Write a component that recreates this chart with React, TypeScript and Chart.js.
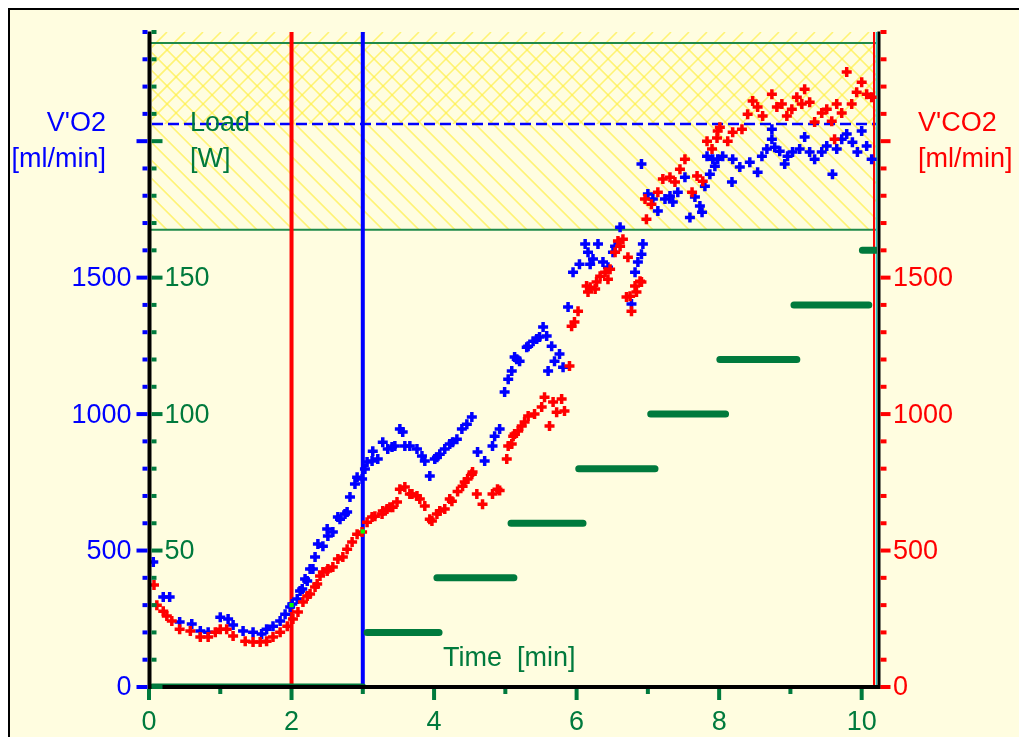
import React, { useEffect, useRef } from "react";
import { Chart, registerables } from "chart.js";

Chart.register(...registerables);

// ---------- data ----------
const vo2Time = [
  0.06, 0.2, 0.29, 0.43, 0.6, 0.72, 0.83, 1.0, 1.11, 1.18, 1.32, 1.46, 1.58, 1.65, 1.74, 1.84, 1.91, 1.98,
  2.01, 2.08, 2.12, 2.15, 2.19, 2.22, 2.26, 2.3, 2.33, 2.37, 2.44, 2.5, 2.51, 2.58, 2.65, 2.68, 2.75, 2.78,
  2.82, 2.89, 2.92, 2.99, 3.03, 3.06, 3.13, 3.14, 3.21, 3.28, 3.35, 3.41, 3.45, 3.52, 3.56, 3.59, 3.66, 3.76,
  3.83, 3.87, 3.94, 4.01, 4.04, 4.08, 4.15, 4.22, 4.26, 4.32, 4.39, 4.46, 4.53, 4.61, 4.71, 4.82, 4.85, 4.92,
  4.99, 5.04, 5.09, 5.13, 5.16, 5.2, 5.3, 5.32, 5.39, 5.44, 5.48, 5.53, 5.58, 5.6, 5.65, 5.69, 5.76, 5.81,
  5.88, 5.95, 6.04, 6.12, 6.16, 6.19, 6.23, 6.3, 6.37, 6.44, 6.51, 6.54, 6.61, 6.77, 6.82, 6.86, 6.91, 6.93,
  6.91, 7.0, 7.07, 7.14, 7.24, 7.31, 7.35, 7.42, 7.52, 7.59, 7.66, 7.73, 7.76, 7.8, 7.83, 7.87, 7.91, 7.94,
  7.98, 8.05, 8.18, 8.19, 8.29, 8.43, 8.54, 8.6, 8.67, 8.74, 8.74, 8.78, 8.85, 8.92, 8.96, 9.03, 9.13, 9.2,
  9.27, 9.34, 9.44, 9.51, 9.59, 9.65, 9.72, 9.79, 9.87, 9.94, 10.0, 10.07, 10.14,
];
const vo2Values = [
  458, 330, 330, 238, 231, 205, 201, 256, 249, 227, 205, 201, 194, 212, 223, 242, 267, 293,
  304, 322, 352, 359, 396, 388, 432, 432, 476, 524, 516, 579, 553, 568, 623, 615, 634, 641,
  696, 744, 769, 762, 799, 824, 828, 864, 835, 897, 872, 879, 883, 945, 934, 883, 883, 872,
  846, 828, 773, 835, 842, 853, 872, 890, 897, 908, 945, 963, 989, 861, 828, 883, 919, 945,
  1081, 1128, 1158, 1209, 1201, 1194, 1245, 1249, 1267, 1275, 1282, 1319, 1286, 1158, 1249, 1194, 1220, 1172,
  1392, 1520, 1549, 1623, 1593, 1549, 1568, 1623, 1557, 1538, 1593, 1615, 1685, 1403, 1520, 1557, 1586, 1623,
  1916, 1806, 1788, 1744, 1788, 1799, 1777, 1813, 1868, 1720, 1795, 1762, 1740, 1835, 1945, 1879, 1934, 1908,
  1934, 1945, 1850, 1934, 1905, 1923, 1886, 1945, 1971, 2007, 2044, 1978, 1963, 1916, 1945, 1960, 1971, 2015,
  1960, 1934, 1960, 1982, 1879, 1971, 2007, 2026, 1996, 1960, 2037, 1982, 1934,
];

const vco2Time = [
  0.07, 0.11, 0.2, 0.25, 0.32, 0.43, 0.58, 0.72, 0.83, 0.93, 1.0, 1.09, 1.18, 1.35, 1.46, 1.56, 1.65, 1.74,
  1.84, 1.94, 2.02, 2.09, 2.16, 2.22, 2.26, 2.33, 2.36, 2.4, 2.44, 2.5, 2.51, 2.58, 2.65, 2.72, 2.78, 2.85,
  2.92, 2.99, 3.06, 3.13, 3.17, 3.27, 3.28, 3.34, 3.38, 3.42, 3.48, 3.52, 3.59, 3.66, 3.69, 3.76, 3.8, 3.87,
  3.94, 3.97, 4.04, 4.08, 4.15, 4.22, 4.25, 4.33, 4.4, 4.43, 4.47, 4.53, 4.54, 4.6, 4.68, 4.82, 4.89, 4.92,
  5.02, 5.04, 5.09, 5.11, 5.13, 5.18, 5.23, 5.27, 5.32, 5.41, 5.51, 5.55, 5.62, 5.67, 5.72, 5.79, 5.83, 5.9,
  5.93, 5.97, 6.02, 6.14, 6.16, 6.19, 6.26, 6.28, 6.33, 6.4, 6.44, 6.47, 6.54, 6.58, 6.61, 6.65, 6.7, 6.72,
  6.75, 6.77, 6.82, 6.84, 6.89, 6.91, 6.96, 6.98, 7.05, 7.14, 7.21, 7.31, 7.38, 7.45, 7.52, 7.62, 7.69, 7.77,
  7.83, 7.9, 7.97, 7.98, 8.01, 8.12, 8.19, 8.32, 8.4, 8.47, 8.54, 8.61, 8.74, 8.81, 8.88, 8.95, 9.02, 9.09,
  9.16, 9.2, 9.27, 9.34, 9.44, 9.51, 9.58, 9.62, 9.65, 9.72, 9.79, 9.86, 9.93, 10.0, 10.07, 10.14,
];
const vco2Values = [
  374, 300, 278, 260, 242, 212, 205, 183, 183, 201, 212, 212, 187, 168, 165, 165, 168, 183,
  201, 223, 249, 275, 311, 333, 341, 366, 377, 407, 421, 425, 432, 440, 469, 476, 505, 531,
  560, 568, 604, 623, 626, 634, 645, 652, 659, 659, 678, 725, 733, 707, 707, 700, 689, 663,
  615, 608, 634, 645, 652, 689, 681, 716, 736, 751, 762, 780, 788, 707, 670, 707, 725, 720,
  835, 883, 890, 919, 927, 938, 956, 971, 993, 1000, 1026, 1062, 956, 1044, 1007, 1055, 1011, 1176,
  1322, 1337, 1377, 1469, 1447, 1465, 1458, 1484, 1505, 1520, 1494, 1531, 1593, 1634, 1615, 1641, 1429, 1575,
  1432, 1377, 1469, 1447, 1487, 1484, 1788, 1714, 1769, 1813, 1861, 1868, 1850, 1897, 1934, 1813, 1872, 1853,
  2000, 1971, 2012, 2037, 2051, 2000, 2033, 2044, 2099, 2147, 2125, 2092, 2172, 2125, 2136, 2092, 2117, 2161,
  2136, 2190, 2143, 2070, 2103, 2117, 2073, 2007, 2136, 2103, 2253, 2136, 2179, 2216, 2172, 2161,
];

// load steps (W)
const loadStart = [0.05, 3.06, 4.04, 5.08, 6.03, 7.04, 8.01, 9.05, 10.01];
const loadEnd = [3.0, 4.07, 5.12, 6.09, 7.1, 8.09, 9.09, 10.1, 10.2];
const loadWatts = [0, 20, 40, 60, 80, 100, 120, 140, 160];

// vertical phase markers (min) and their crossing markers
const phaseTimes = [2, 3];
const crossTime = [2.0, 3.0];
const crossValue = [300, 570];

// target zone (ml/min)
const zoneTop = 2360;
const zoneBottom = 1675;
const refLine = 2063;

// axes
const xMax = 10.215;
const yMax = 2400;
const loadMax = 240;
const xTickValues = [0, 1, 2, 3, 4, 5, 6, 7, 8, 9, 10];
const xTickLabels = ["0", "2", "4", "6", "8", "10"];
const vo2TickLabels = ["0", "500", "1000", "1500"];
const loadTickLabels = ["50", "100", "150"];
const vco2TickLabels = ["0", "500", "1000", "1500"];

// ---------- styles ----------
const BG = "#fffde0";
const BLUE = "#0000ff";
const RED = "#ff0000";
const GREEN = "#007a3d";
const LINE_GREEN = "#1f8a4a";
const HATCH = "rgba(255,238,60,0.65)";
const FONT = '27px "Liberation Sans", Arial, sans-serif';

const framePlugin = {
  id: "frame",
  beforeDatasetsDraw(chart: any) {
    const ctx: CanvasRenderingContext2D = chart.ctx;
    const { left, right, top, bottom } = chart.chartArea;
    const xs = chart.scales.x;
    const ys = chart.scales.y;

    const hatch = (yA: number, yB: number, dir: number) => {
      ctx.save();
      ctx.beginPath();
      ctx.rect(left + 3, yA, right - left - 3, yB - yA);
      ctx.clip();
      ctx.strokeStyle = HATCH;
      ctx.lineWidth = 1.6;
      ctx.beginPath();
      const h = yB - yA;
      const step = 18;
      for (let s = left - h - step; s < right + h + step; s += step) {
        if (dir > 0) {
          ctx.moveTo(s, yB);
          ctx.lineTo(s + h, yA);
        } else {
          ctx.moveTo(s, yA);
          ctx.lineTo(s + h, yB);
        }
      }
      ctx.stroke();
      ctx.restore();
    };
    hatch(top, ys.getPixelForValue(refLine), 1);
    hatch(ys.getPixelForValue(zoneTop), ys.getPixelForValue(zoneBottom), -1);

    // zone lines
    ctx.save();
    ctx.strokeStyle = LINE_GREEN;
    ctx.lineWidth = 2;
    [zoneTop, zoneBottom].forEach((v) => {
      const yy = ys.getPixelForValue(v);
      ctx.beginPath();
      ctx.moveTo(left + 2, yy);
      ctx.lineTo(right, yy);
      ctx.stroke();
    });
    // reference dashed line
    ctx.strokeStyle = BLUE;
    ctx.lineWidth = 2.5;
    ctx.setLineDash([11, 5]);
    ctx.beginPath();
    const yr = ys.getPixelForValue(refLine);
    ctx.moveTo(left + 3, yr);
    ctx.lineTo(right, yr);
    ctx.stroke();
    ctx.setLineDash([]);

    // phase lines
    const phaseColors = [RED, BLUE];
    phaseTimes.forEach((t, i) => {
      const xx = xs.getPixelForValue(t);
      ctx.strokeStyle = phaseColors[i];
      ctx.lineWidth = 4;
      ctx.beginPath();
      ctx.moveTo(xx, top);
      ctx.lineTo(xx, bottom);
      ctx.stroke();
    });
    // right end lines
    ctx.strokeStyle = RED;
    ctx.lineWidth = 2;
    ctx.beginPath();
    ctx.moveTo(right - 3, top);
    ctx.lineTo(right - 3, bottom);
    ctx.stroke();
    ctx.strokeStyle = "#20c0c0";
    ctx.lineWidth = 1.5;
    ctx.beginPath();
    ctx.moveTo(right - 0.5, top);
    ctx.lineTo(right - 0.5, bottom);
    ctx.stroke();
    ctx.restore();
  },
  afterDatasetsDraw(chart: any) {
    const ctx: CanvasRenderingContext2D = chart.ctx;
    const { right, top } = chart.chartArea;
    const xs = chart.scales.x;
    const ys = chart.scales.y;
    const yl = chart.scales.yLoad;
    const y2 = chart.scales.y2;
    const axX = xs.getPixelForValue(0) + 0.5;
    const axY = ys.getPixelForValue(0);
    const rAx = right + 2;

    ctx.save();
    // axis lines
    ctx.strokeStyle = "#000";
    ctx.lineWidth = 4;
    ctx.beginPath();
    ctx.moveTo(axX, top - 0.5);
    ctx.lineTo(axX, axY + 2);
    ctx.moveTo(axX - 2, axY);
    ctx.lineTo(rAx + 1.5, axY);
    ctx.stroke();
    ctx.lineWidth = 3;
    ctx.beginPath();
    ctx.moveTo(rAx, top - 0.5);
    ctx.lineTo(rAx, axY + 2);
    ctx.stroke();

    // left / right ticks
    ctx.lineWidth = 4;
    for (let v = 0; v <= yMax; v += 100) {
      const major = v % 500 === 0;
      const yy = ys.getPixelForValue(v);
      ctx.strokeStyle = BLUE;
      ctx.beginPath();
      ctx.moveTo(axX - 2 - (major ? 11 : 5), yy);
      ctx.lineTo(axX - 2, yy);
      ctx.stroke();
      ctx.strokeStyle = GREEN;
      ctx.beginPath();
      ctx.moveTo(axX + 2, yy);
      ctx.lineTo(axX + 2 + (major ? 11 : 5), yy);
      ctx.stroke();
      const yy2 = y2.getPixelForValue(v);
      ctx.strokeStyle = RED;
      ctx.beginPath();
      ctx.moveTo(rAx + 1.5, yy2);
      ctx.lineTo(rAx + 1.5 + (major ? 10 : 6), yy2);
      ctx.stroke();
    }
    // bottom ticks
    ctx.strokeStyle = GREEN;
    xTickValues.forEach((t) => {
      const major = t % 2 === 0;
      const xx = xs.getPixelForValue(t);
      ctx.beginPath();
      ctx.moveTo(xx, axY + 2);
      ctx.lineTo(xx, axY + 2 + (major ? 11 : 5));
      ctx.stroke();
    });

    // tick labels
    ctx.font = FONT;
    ctx.textBaseline = "middle";
    ctx.fillStyle = BLUE;
    ctx.textAlign = "right";
    vo2TickLabels.forEach((s) => ctx.fillText(s, axX - 18, ys.getPixelForValue(Number(s)) + 1));
    ctx.fillStyle = GREEN;
    ctx.textAlign = "left";
    loadTickLabels.forEach((s) => ctx.fillText(s, axX + 15, yl.getPixelForValue(Number(s)) + 1));
    ctx.fillStyle = RED;
    vco2TickLabels.forEach((s) => ctx.fillText(s, rAx + 14, y2.getPixelForValue(Number(s)) + 1));
    ctx.fillStyle = GREEN;
    ctx.textAlign = "center";
    xTickLabels.forEach((s) => ctx.fillText(s, xs.getPixelForValue(Number(s)), axY + 36));

    // axis titles
    ctx.fillStyle = BLUE;
    ctx.textAlign = "right";
    ctx.fillText("V'O2", 96, 114);
    ctx.fillText("[ml/min]", 96, 150);
    ctx.fillStyle = GREEN;
    ctx.textAlign = "left";
    ctx.fillText("Load", 180, 114);
    ctx.fillText("[W]", 180, 150);
    ctx.fillText("Time  [min]", 433, 649);
    ctx.fillStyle = RED;
    ctx.fillText("V'CO2", 908, 114);
    ctx.fillText("[ml/min]", 908, 150);
    ctx.restore();
  },
};

export default function App() {
  const ref = useRef<HTMLCanvasElement>(null);
  useEffect(() => {
    document.documentElement.style.overflow = "hidden";
    const loadData: any[] = [];
    loadStart.forEach((s, i) => {
      loadData.push({ x: s, y: loadWatts[i] });
      loadData.push({ x: loadEnd[i], y: loadWatts[i] });
      loadData.push({ x: loadEnd[i], y: null });
    });
    const chart = new Chart(ref.current as HTMLCanvasElement, {
      type: "scatter",
      data: {
        datasets: [
          {
            label: "marker",
            data: crossTime.map((t, i) => ({ x: t, y: crossValue[i] })),
            pointStyle: "rect",
            pointRadius: 3,
            backgroundColor: "#00ff00",
            borderColor: "#00ff00",
            borderWidth: 0,
          },
          {
            label: "V'CO2",
            data: vco2Time.map((t, i) => ({ x: t, y: vco2Values[i] })),
            yAxisID: "y2",
            pointStyle: "cross",
            pointRadius: 5,
            borderWidth: 3.5,
            borderColor: RED,
            backgroundColor: RED,
          },
          {
            label: "V'O2",
            data: vo2Time.map((t, i) => ({ x: t, y: vo2Values[i] })),
            yAxisID: "y",
            pointStyle: "cross",
            pointRadius: 5,
            borderWidth: 3.5,
            borderColor: BLUE,
            backgroundColor: BLUE,
          },
          {
            type: "line",
            label: "Load",
            data: loadData,
            yAxisID: "yLoad",
            showLine: true,
            spanGaps: false,
            pointRadius: 0,
            borderWidth: 7,
            borderCapStyle: "round",
            borderColor: GREEN,
            backgroundColor: GREEN,
          } as any,
        ],
      },
      options: {
        animation: false,
        responsive: false,
        events: [],
        layout: { padding: { left: 139, right: 150, top: 22, bottom: 58 } },
        plugins: { legend: { display: false }, tooltip: { enabled: false } },
        scales: {
          x: { type: "linear", display: false, min: 0, max: xMax },
          y: { type: "linear", display: false, min: 0, max: yMax },
          yLoad: { type: "linear", display: false, min: 0, max: loadMax },
          y2: { type: "linear", display: false, min: 0, max: yMax },
        },
      },
      plugins: [framePlugin],
    });
    return () => chart.destroy();
  }, []);

  return (
    <div
      style={{
        width: 1019,
        height: 737,
        marginBottom: -8,
        boxSizing: "border-box",
        borderTop: "2px solid #000",
        borderLeft: "2px solid #000",
        background: BG,
      }}
    >
      <canvas ref={ref} width={1017} height={735} style={{ display: "block" }} />
    </div>
  );
}
